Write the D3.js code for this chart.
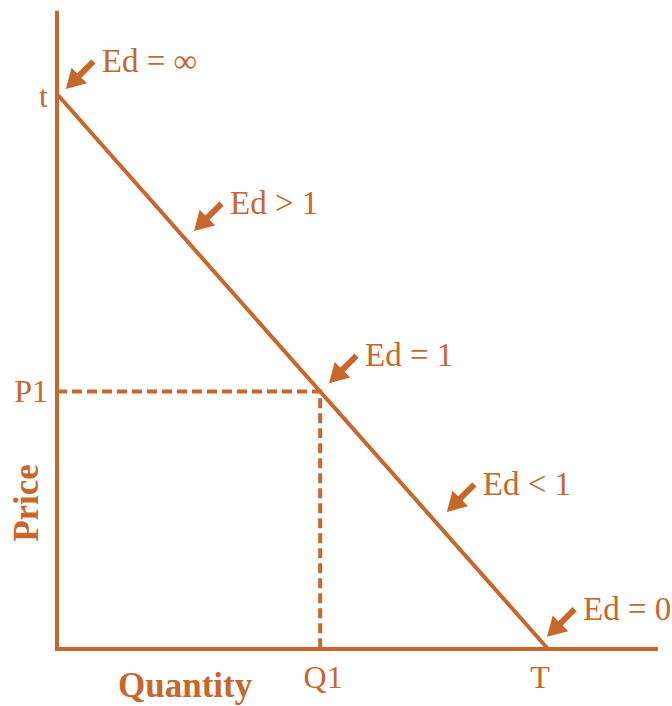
<!DOCTYPE html>
<html>
<head>
<meta charset="utf-8">
<title>Elasticity along a linear demand curve</title>
<style>
  body { margin: 0; background: #fff; }
  svg { font-family: 'Liberation Serif', 'DejaVu Serif', serif; }
</style>
</head>
<body>
<figure style="margin:0"></figure>
<script src="https://d3js.org/d3.v7.min.js"></script>
<script>
// ---------- data ----------
const demandLine = [{ q: 0, p: 100 }, { q: 100, p: 0 }]   // t -> T
const q1 = 53.6
const p1 = 46.4
const axisMax = { q: 122.4, p: 115 }

const annLabels = ['Ed = \u221e', 'Ed > 1', 'Ed = 1', 'Ed < 1', 'Ed = 0']
const annTipQ = [1.8, 27.9, 55.4, 79.4, 99.8]
const annTipP = [100.9, 75.3, 47.9, 24.7, 2.2]

const yTickLabels = [{ v: 100, text: 't', dy: 13 }, { v: p1, text: 'P1', dy: 11 }]
const xTickLabels = [{ v: q1, text: 'Q1', dx: 3 }, { v: 100, text: 'T', dx: -8 }]

// ---------- setup ----------
const W = 672, H = 706
const color = '#c8672c'

const svg = d3.select('figure').append('svg')
  .attr('width', W).attr('height', H)

const x = d3.scaleLinear().domain([0, 100]).range([57, 548])
const y = d3.scaleLinear().domain([0, 100]).range([649, 94])

// axes
svg.append('line')
  .attr('x1', x(0)).attr('x2', x(0))
  .attr('y1', y(axisMax.p)).attr('y2', y(0) + 2)
  .attr('stroke', color).attr('stroke-width', 4)
svg.append('line')
  .attr('x1', x(0) - 2).attr('x2', x(axisMax.q))
  .attr('y1', y(0)).attr('y2', y(0))
  .attr('stroke', color).attr('stroke-width', 4)

// dashed guides
svg.append('path')
  .attr('d', d3.line()([[x(0), y(p1)], [x(q1), y(p1)], [x(q1), y(0)]]))
  .attr('fill', 'none')
  .attr('stroke', color).attr('stroke-width', 4)
  .attr('stroke-dasharray', '10,5')

// demand line
svg.append('path')
  .datum(demandLine)
  .attr('d', d3.line().x(d => x(d.q)).y(d => y(d.p)))
  .attr('stroke', color).attr('stroke-width', 4)

// tick labels
svg.selectAll('.ylab')
  .data(yTickLabels).enter()
  .append('text')
  .attr('x', x(0) - 9).attr('y', d => y(d.v) + d.dy)
  .attr('text-anchor', 'end')
  .attr('font-size', 32).attr('fill', color)
  .text(d => d.text)

svg.selectAll('.xlab')
  .data(xTickLabels).enter()
  .append('text')
  .attr('x', d => x(d.v) + d.dx).attr('y', y(0) + 39)
  .attr('text-anchor', 'middle')
  .attr('font-size', 32).attr('fill', color)
  .text(d => d.text)

// axis titles
svg.append('text')
  .attr('x', 118).attr('y', 697)
  .attr('font-size', 35).attr('font-weight', 'bold').attr('fill', color)
  .text('Quantity')

svg.append('text')
  .attr('transform', 'translate(38,503) rotate(-90)')
  .attr('text-anchor', 'middle')
  .attr('font-size', 35).attr('font-weight', 'bold').attr('fill', color)
  .text('Price')

// annotation arrows
const ann = annLabels.map((t, i) => ({ text: t, q: annTipQ[i], p: annTipP[i] }))

function arrowPath(d) {
  const tx = x(d.q), ty = y(d.p)
  const len = 39, head = 19, hw = 11, sw = 3
  const ux = Math.SQRT1_2, uy = -Math.SQRT1_2   // direction tip -> tail
  const px = -uy, py = ux
  const bx = tx + ux * head, by = ty + uy * head
  const ex = tx + ux * len, ey = ty + uy * len
  const pts = [
    [tx, ty],
    [bx + px * hw, by + py * hw],
    [bx + px * sw, by + py * sw],
    [ex + px * sw, ey + py * sw],
    [ex - px * sw, ey - py * sw],
    [bx - px * sw, by - py * sw],
    [bx - px * hw, by - py * hw]
  ]
  return 'M' + pts.join('L') + 'Z'
}

svg.selectAll('.arrow')
  .data(ann).enter()
  .append('path')
  .attr('d', arrowPath)
  .attr('fill', color)

svg.selectAll('.annlab')
  .data(ann).enter()
  .append('text')
  .attr('x', d => x(d.q) + 36)
  .attr('y', d => y(d.p) - 17)
  .attr('font-size', 33).attr('fill', color)
  .text(d => d.text)
</script>
</body>
</html>
